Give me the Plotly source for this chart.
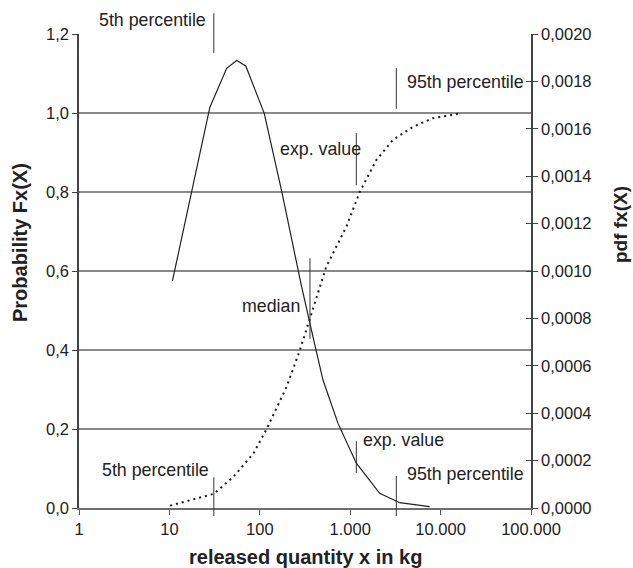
import plotly.graph_objects as go

# ---- data ----
pdf_x = [10.8, 28, 43, 55.5, 70, 92, 112, 175, 290, 387, 463, 500, 733, 1169, 2120, 3530, 7570]
pdf_y = [0.000958, 0.00169, 0.001855, 0.001888, 0.001865, 0.00175, 0.001665, 0.001335,
         0.000934, 0.000723, 0.000596, 0.00054, 0.000357, 0.000189, 0.000062, 0.0000225, 0.0000055]

cdf_x = [10.2, 31, 51, 85, 119, 198, 278, 359, 463, 544, 906, 1274, 1944, 2974, 4950, 8240, 14900, 16300]
cdf_y = [0.006, 0.036, 0.079, 0.138, 0.2, 0.307, 0.40, 0.48, 0.56, 0.611, 0.712, 0.80,
         0.881, 0.932, 0.965, 0.987, 0.997, 1.0]

x_tickvals = [1, 10, 100, 1000, 10000, 100000]
x_ticktext = ["1", "10", "100", "1.000", "10.000", "100.000"]
y_tickvals = [0.0, 0.2, 0.4, 0.6, 0.8, 1.0, 1.2]
y_ticktext = ["0,0", "0,2", "0,4", "0,6", "0,8", "1,0", "1,2"]
y2_tickvals = [0.0, 0.0002, 0.0004, 0.0006, 0.0008, 0.0010, 0.0012, 0.0014, 0.0016, 0.0018, 0.0020]
y2_ticktext = ["0,0000", "0,0002", "0,0004", "0,0006", "0,0008", "0,0010",
               "0,0012", "0,0014", "0,0016", "0,0018", "0,0020"]

p5, median, expv, p95 = 31, 359, 1168, 3236

FONT = "Liberation Sans, Arial, sans-serif"
INK = "#222222"

fig = go.Figure()
fig.add_trace(go.Scatter(x=cdf_x, y=cdf_y, mode="lines", yaxis="y",
                         line=dict(color="#1a1a1a", width=2, dash="2px,4px"),
                         showlegend=False, hoverinfo="skip"))
fig.add_trace(go.Scatter(x=pdf_x, y=pdf_y, mode="lines", yaxis="y2",
                         line=dict(color="#222222", width=1.2),
                         showlegend=False, hoverinfo="skip"))

# marker lines (x in data units, y in paper units)
markers = [
    (p5, 1.044, 0.960),
    (p95, 0.928, 0.842),
    (expv, 0.791, 0.681),
    (median, 0.527, 0.357),
    (expv, 0.141, 0.074),
    (p95, 0.0675, -0.017),
    (p5, 0.065, -0.017),
]
for xv, ya, yb in markers:
    fig.add_shape(type="line", xref="x", yref="paper", x0=xv, x1=xv, y0=ya, y1=yb,
                  line=dict(color="#333333", width=1))

labels = [
    ("5th percentile", 0.2854, 1.0295, "right"),
    ("95th percentile", 0.7206, 0.8987, "left"),
    ("exp. value", 0.4403, 0.757, "left"),
    ("median", 0.4927, 0.426, "right"),
    ("exp. value", 0.6246, 0.1435, "left"),
    ("95th percentile", 0.7206, 0.0711, "left"),
    ("5th percentile", 0.0465, 0.0802, "left"),
]
for txt, xp, yp, anc in labels:
    fig.add_annotation(text=txt, xref="paper", yref="paper", x=xp, y=yp,
                       xanchor=anc, yanchor="middle", showarrow=False,
                       font=dict(family=FONT, size=17.8, color=INK))

# axis titles
fig.add_annotation(text="<b>Probability Fx(X)</b>", xref="paper", yref="paper",
                   x=-0.1305, y=0.559, textangle=-90, showarrow=False,
                   xanchor="center", yanchor="middle",
                   font=dict(family=FONT, size=20, color=INK))
fig.add_annotation(text="<b>pdf fx(X)</b>", xref="paper", yref="paper",
                   x=1.1969, y=0.599, textangle=-90, showarrow=False,
                   xanchor="center", yanchor="middle",
                   font=dict(family=FONT, size=19, color=INK))
fig.add_annotation(text="<b>released quantity x in kg</b>", xref="paper", yref="paper",
                   x=0.501, y=-0.103, showarrow=False,
                   xanchor="center", yanchor="middle",
                   font=dict(family=FONT, size=20, color=INK))

fig.update_layout(
    width=633, height=568,
    margin=dict(l=79, r=102, t=34, b=60),
    paper_bgcolor="white", plot_bgcolor="white",
    font=dict(family=FONT, size=16.5, color=INK),
    showlegend=False,
    xaxis=dict(type="log", range=[0, 5], tickvals=x_tickvals, ticktext=x_ticktext,
               ticks="outside", ticklen=5, tickcolor="#555", showgrid=False,
               showline=True, linecolor="#6e6e6e", linewidth=2, zeroline=False,
               tickfont=dict(size=16.5, color=INK)),
    yaxis=dict(range=[0, 1.2], tickvals=y_tickvals, ticktext=y_ticktext,
               ticks="outside", ticklen=5, tickcolor="#444", showgrid=True,
               gridcolor="#8a8a8a", gridwidth=1.5, showline=True, linecolor="#444",
               linewidth=1.5, zeroline=False, tickfont=dict(size=16.5, color=INK)),
    yaxis2=dict(range=[0, 0.002], tickvals=y2_tickvals, ticktext=y2_ticktext,
                overlaying="y", side="right", anchor="x", ticks="outside", ticklen=5,
                tickcolor="#444", showgrid=False, showline=True, linecolor="#444",
                linewidth=1.5, zeroline=False, tickfont=dict(size=16.5, color=INK)),
    yaxis3=dict(range=[0, 0.002], tickvals=y2_tickvals, overlaying="y", side="right",
                anchor="x", ticks="inside", ticklen=5, tickcolor="#444",
                showticklabels=False, showgrid=False, showline=False, zeroline=False),
)
fig.add_trace(go.Scatter(x=[None], y=[None], yaxis="y3", showlegend=False, hoverinfo="skip"))

fig.write_html("out.html", config={"displayModeBar": False},
               post_script="document.body.style.margin='0';document.body.style.overflow='hidden';")
